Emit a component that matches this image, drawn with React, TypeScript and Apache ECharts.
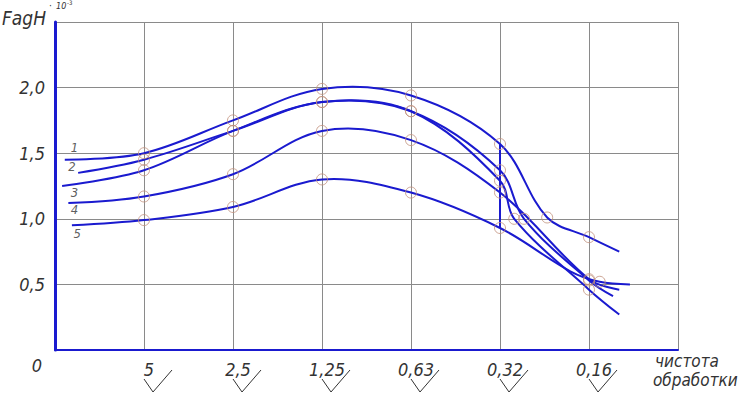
import React, { useEffect, useRef } from "react";
import * as echarts from "echarts";

// x positions: 0 = axis origin, 1..6 = roughness classes, 7 = right border
const xTickLabels = ["", "5", "2,5", "1,25", "0,63", "0,32", "0,16", ""];
const yMin = 0;
const yMax = 2.5;
const yStep = 0.5;

const curve1X = [0.11, 1, 2, 3, 4, 5, 5.53, 6, 6.34];
const curve1Y = [1.45, 1.5, 1.75, 1.99, 1.94, 1.57, 1.01, 0.86, 0.75];
const curve1M = [0, 1, 1, 1, 1, 1, 1, 1, 0];

const curve2X = [0.26, 1, 2, 3, 4, 5, 5.27, 6, 6.27];
const curve2Y = [1.35, 1.45, 1.67, 1.89, 1.82, 1.37, 1.0, 0.53, 0.41];
const curve2M = [0, 1, 1, 1, 1, 1, 1, 1, 0];

const curve3X = [0.08, 1, 2, 3, 4, 5, 5.16, 6, 6.34];
const curve3Y = [1.25, 1.37, 1.67, 1.89, 1.82, 1.29, 1.0, 0.46, 0.27];
const curve3M = [0, 1, 1, 1, 1, 1, 1, 1, 0];

const curve4X = [0.15, 1, 2, 3, 4, 5, 6, 6.34];
const curve4Y = [1.12, 1.17, 1.34, 1.67, 1.6, 1.2, 0.54, 0.46];
const curve4M = [0, 1, 1, 1, 1, 1, 1, 0];

const curve5X = [0.19, 1, 2, 3, 4, 5, 5.79, 6.12, 6.46];
const curve5Y = [0.95, 0.99, 1.09, 1.3, 1.2, 0.93, 0.6, 0.52, 0.5];
const curve5M = [0, 1, 1, 1, 1, 1, 0, 1, 0];

// vertical connector at 0,32
const connectorX = [5, 5];
const connectorY = [1.57, 0.93];

const curveNames = ["1", "2", "3", "4", "5"];
const curveLabelX = [0.22, 0.19, 0.22, 0.22, 0.25];
const curveLabelY = [1.54, 1.4, 1.2, 1.07, 0.89];

const BLUE = "#1a1acf";
const MARK = "#c0907c";
const GRID = "#8a8a8a";
const TEXT = "#333333";
const FONT = '"DejaVu Sans Condensed", "DejaVu Sans", sans-serif';

export default function App() {
  const ref = useRef<HTMLDivElement>(null);

  useEffect(() => {
    if (!ref.current) return;
    const chart = echarts.init(ref.current, null, { renderer: "svg" });

    const curves = [
      [curve1X, curve1Y, curve1M],
      [curve2X, curve2Y, curve2M],
      [curve3X, curve3Y, curve3M],
      [curve4X, curve4Y, curve4M],
      [curve5X, curve5Y, curve5M],
    ] as number[][][];

    const curveSeries = curves.map((c, ci) => {
      const pts = c[0].map((x, i) => [x, c[1][i]]);
      return {
        type: "custom",
        name: curveNames[ci],
        data: pts,
        renderItem: (params: any, api: any) => {
          if (params.dataIndex !== 0) return null;
          return {
            type: "polyline",
            shape: {
              points: pts.map((p) => api.coord(p)),
              smooth: 0.35,
            },
            style: { stroke: BLUE, lineWidth: 2, fill: null },
          };
        },
        z: 3,
      };
    });

    const markerData: number[][] = [];
    curves.forEach((c) =>
      c[0].forEach((x, i) => {
        if (c[2][i]) markerData.push([x, c[1][i]]);
      })
    );

    const option: any = {
      animation: false,
      backgroundColor: "#ffffff",
      grid: { left: 55, right: 71, top: 22, bottom: 44 },
      xAxis: {
        type: "value",
        min: 0,
        max: xTickLabels.length - 1,
        interval: 1,
        axisLine: { show: true, lineStyle: { color: BLUE, width: 2 } },
        axisTick: { show: false },
        splitLine: { show: true, lineStyle: { color: GRID, width: 1 } },
        axisLabel: {
          margin: 10,
          fontSize: 18,
          fontStyle: "italic",
          fontFamily: FONT,
          color: TEXT,
          padding: [0, 0, 0, 10],
          formatter: (v: number) => xTickLabels[Math.round(v)] ?? "",
        },
      },
      yAxis: {
        type: "value",
        min: yMin,
        max: yMax,
        interval: yStep,
        axisLine: { show: true, lineStyle: { color: BLUE, width: 3 } },
        axisTick: { show: false },
        splitLine: { show: true, lineStyle: { color: GRID, width: 1 } },
        axisLabel: {
          margin: 10,
          fontSize: 18,
          fontStyle: "italic",
          fontFamily: FONT,
          color: TEXT,
          padding: [0, 0, 10, 0],
          formatter: (v: number) =>
            v === yMin || v === yMax ? "" : v.toFixed(1).replace(".", ","),
        },
      },
      series: [
        ...curveSeries,
        {
          type: "line",
          data: connectorX.map((x, i) => [x, connectorY[i]]),
          symbol: "none",
          lineStyle: { color: BLUE, width: 2 },
          z: 2,
        },
        {
          type: "scatter",
          data: markerData,
          symbol: "circle",
          symbolSize: 11,
          itemStyle: { color: "transparent", borderColor: MARK, borderWidth: 1 },
          z: 4,
        },
        {
          type: "scatter",
          data: curveNames.map((n, i) => ({
            name: n,
            value: [curveLabelX[i], curveLabelY[i]],
          })),
          symbolSize: 1,
          itemStyle: { color: "transparent" },
          label: {
            show: true,
            position: "inside",
            formatter: "{b}",
            fontSize: 13,
            fontStyle: "italic",
            fontFamily: FONT,
            color: TEXT,
          },
          z: 4,
        },
      ],
    };

    chart.setOption(option);

    const graphics: any[] = [];
    const axisY = chart.convertToPixel({ yAxisIndex: 0 }, 0) as number;
    xTickLabels.forEach((l, i) => {
      if (!l) return;
      const g = chart.convertToPixel({ xAxisIndex: 0 }, i) as number;
      graphics.push({
        type: "polyline",
        shape: {
          points: [
            [g, axisY + 29],
            [g + 9, axisY + 42],
            [g + 28, axisY + 20],
          ],
        },
        style: { stroke: TEXT, lineWidth: 1, fill: null },
      });
    });
    const originX = chart.convertToPixel({ xAxisIndex: 0 }, 0) as number;
    graphics.push({
      type: "text",
      x: originX - 18,
      y: axisY + 15,
      style: {
        text: "0",
        fontSize: 18,
        fontStyle: "italic",
        fontFamily: FONT,
        fill: TEXT,
        align: "center",
        verticalAlign: "middle",
      },
    });
    graphics.push(
      {
        type: "text",
        x: 2,
        y: 8,
        style: {
          text: "FagH",
          fontSize: 19,
          fontStyle: "italic",
          fontFamily: FONT,
          fill: TEXT,
        },
      },
      {
        type: "text",
        x: 49,
        y: 0,
        style: { text: "·", fontSize: 10, fill: TEXT, fontFamily: FONT },
      },
      {
        type: "text",
        x: 56,
        y: 1,
        style: {
          text: "10",
          fontSize: 9,
          fontStyle: "italic",
          fontFamily: FONT,
          fill: TEXT,
        },
      },
      {
        type: "text",
        x: 67,
        y: -1,
        style: { text: "-3", fontSize: 6, fontFamily: FONT, fill: TEXT },
      },
      {
        type: "text",
        x: 655,
        y: 352,
        style: {
          text: "чистота",
          fontSize: 17,
          fontStyle: "italic",
          fontFamily: FONT,
          fill: TEXT,
        },
      },
      {
        type: "text",
        x: 653,
        y: 371,
        style: {
          text: "обработки",
          fontSize: 17,
          fontStyle: "italic",
          fontFamily: FONT,
          fill: TEXT,
        },
      }
    );
    chart.setOption({ graphic: graphics });

    return () => chart.dispose();
  }, []);

  return (
    <div
      ref={ref}
      style={{ position: "fixed", left: 0, top: 0, width: 749, height: 394 }}
    />
  );
}
